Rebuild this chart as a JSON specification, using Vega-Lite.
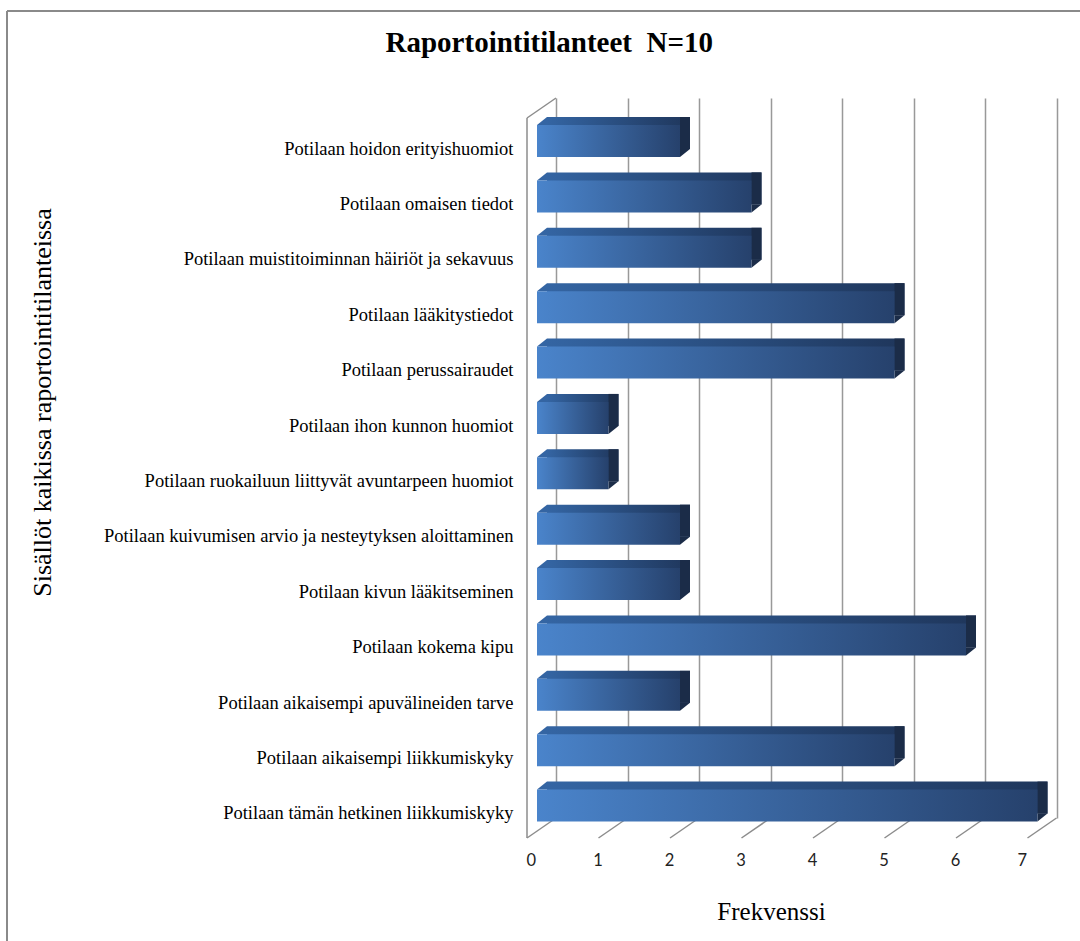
{
  "$schema": "https://vega.github.io/schema/vega-lite/v6.json",
  "width": 500.5,
  "height": 720,
  "autosize": "none",
  "padding": {"left": 556, "top": 98, "right": 23.5, "bottom": 123},
  "background": "white",
  "title": {
    "text": "Raportointitilanteet\u00a0 N=10",
    "font": "Liberation Serif",
    "fontSize": 29,
    "fontWeight": "bold",
    "color": "black",
    "anchor": "middle",
    "frame": "group",
    "dx": -257,
    "offset": -48
  },
  "config": {
    "view": {"stroke": null},
    "axisX": {
      "grid": true,
      "gridColor": "#999999",
      "gridWidth": 1.5,
      "ticks": false,
      "domain": false,
      "tickCount": 7,
      "labelFont": "Lato",
      "labelFontSize": 16.5,
      "labelColor": "#222222",
      "labelOffset": -30,
      "labelPadding": 34,
      "titleFont": "Liberation Serif",
      "titleFontSize": 25,
      "titleFontWeight": "normal",
      "titleColor": "black",
      "titleX": 215,
      "titleY": 93,
      "titleBaseline": "middle"
    },
    "axisY": {
      "grid": false,
      "ticks": false,
      "domain": false,
      "labelFont": "Liberation Serif",
      "labelFontSize": 18.5,
      "labelColor": "black",
      "labelPadding": 43,
      "labelOffset": 23,
      "labelLimit": 600,
      "titleFont": "Liberation Serif",
      "titleFontSize": 26,
      "titleFontWeight": "normal",
      "titleColor": "black",
      "titleX": -514,
      "titleY": 304,
      "titleBaseline": "middle"
    }
  },
  "datasets": {
    "bars": [
      {"cat": "Potilaan hoidon erityishuomiot", "value": 2},
      {"cat": "Potilaan omaisen tiedot", "value": 3},
      {"cat": "Potilaan muistitoiminnan häiriöt ja sekavuus", "value": 3},
      {"cat": "Potilaan lääkitystiedot", "value": 5},
      {"cat": "Potilaan perussairaudet", "value": 5},
      {"cat": "Potilaan ihon kunnon huomiot", "value": 1},
      {"cat": "Potilaan ruokailuun liittyvät avuntarpeen huomiot", "value": 1},
      {"cat": "Potilaan kuivumisen arvio ja nesteytyksen aloittaminen", "value": 2},
      {"cat": "Potilaan kivun lääkitseminen", "value": 2},
      {"cat": "Potilaan kokema kipu", "value": 6},
      {"cat": "Potilaan aikaisempi apuvälineiden tarve", "value": 2},
      {"cat": "Potilaan aikaisempi liikkumiskyky", "value": 5},
      {"cat": "Potilaan tämän hetkinen liikkumiskyky", "value": 7}
    ],
    "ticks": [{"k": 0}, {"k": 1}, {"k": 2}, {"k": 3}, {"k": 4}, {"k": 5}, {"k": 6}, {"k": 7}]
  },
  "layer": [
    {
      "layer": [
        {
          "data": {"name": "ticks"},
          "mark": {"type": "rule", "color": "#8c8c8c", "strokeWidth": 1.5, "xOffset": -29, "yOffset": 20},
          "encoding": {
            "x": {"field": "k", "type": "quantitative", "title": "Frekvenssi", "scale": {"domain": [0, 7], "nice": false}},
            "x2": {"field": "k"},
            "y": {"datum": 0, "type": "quantitative", "scale": {"domain": [0, 1]}, "axis": null},
            "y2": {"datum": 0}
          }
        },
        {
          "data": {"values": [{}]},
          "mark": {"type": "rule", "color": "#8c8c8c", "strokeWidth": 1.5, "xOffset": -29, "yOffset": 20, "y2Offset": 20},
          "encoding": {
            "x": {"datum": 0, "type": "quantitative", "title": "Frekvenssi"},
            "y": {"datum": 0, "type": "quantitative", "axis": null},
            "y2": {"datum": 1}
          }
        },
        {
          "data": {"values": [{}]},
          "mark": {"type": "rule", "color": "#8c8c8c", "strokeWidth": 1.5, "xOffset": -29, "yOffset": 20},
          "encoding": {
            "x": {"datum": 0, "type": "quantitative", "title": "Frekvenssi"},
            "x2": {"datum": 0},
            "y": {"datum": 1, "type": "quantitative", "axis": null},
            "y2": {"datum": 1}
          }
        },
        {
          "data": {"values": [{}]},
          "mark": {"type": "rule", "color": "#8a8a8a", "strokeWidth": 2, "xOffset": -549, "yOffset": -87, "y2Offset": 130},
          "encoding": {
            "x": {"datum": 0, "type": "quantitative", "title": "Frekvenssi"},
            "y": {"datum": 1, "type": "quantitative", "axis": null},
            "y2": {"datum": 0}
          }
        },
        {
          "data": {"values": [{}]},
          "mark": {"type": "rule", "color": "#8a8a8a", "strokeWidth": 2, "xOffset": -549, "x2Offset": 30, "yOffset": -87, "y2Offset": -87},
          "encoding": {
            "x": {"datum": 0, "type": "quantitative", "title": "Frekvenssi"},
            "x2": {"datum": 7},
            "y": {"datum": 1, "type": "quantitative", "axis": null},
            "y2": {"datum": 1}
          }
        }
      ]
    },
    {
      "data": {"name": "bars"},
      "encoding": {
        "y": {
          "field": "cat",
          "type": "nominal",
          "sort": null,
          "title": "Sisällöt kaikissa raportointitilanteissa",
          "scale": {"paddingInner": 0, "paddingOuter": 0}
        }
      },
      "layer": [
        {
          "mark": {
            "type": "bar",
            "height": 32,
            "xOffset": -9,
            "x2Offset": -9,
            "yOffset": 7.3,
            "fill": {
              "gradient": "linear", "x1": 0, "x2": 1, "y1": 0, "y2": 0,
              "stops": [{"offset": 0, "color": "#3465a3"}, {"offset": 1, "color": "#1f365b"}]
            }
          },
          "encoding": {
            "x": {"field": "value", "type": "quantitative", "title": "Frekvenssi"},
            "x2": {"datum": 0}
          }
        },
        {
          "mark": {"type": "bar", "height": 32, "xOffset": -19, "x2Offset": -9, "yOffset": 7.3, "fill": "#1b2c48"},
          "encoding": {
            "x": {"field": "value", "type": "quantitative", "title": "Frekvenssi"},
            "x2": {"field": "value"}
          }
        },
        {
          "mark": {"type": "point", "shape": "M -1 0.8 L 1 -0.8 L 1 0.8 Z", "size": 100, "filled": true, "opacity": 1, "strokeWidth": 0, "fill": "#3465a3", "xOffset": -14, "yOffset": -4.7},
          "encoding": {
            "x": {"datum": 0, "type": "quantitative", "title": "Frekvenssi"}
          }
        },
        {
          "mark": {"type": "point", "shape": "M -1 0.8 L 1 -0.8 L -1 -0.8 Z", "size": 100, "filled": true, "opacity": 1, "strokeWidth": 0, "fill": "#1b2c48", "xOffset": -14, "yOffset": 27.3},
          "encoding": {
            "x": {"field": "value", "type": "quantitative", "title": "Frekvenssi"}
          }
        },
        {
          "mark": {
            "type": "bar",
            "height": 32,
            "xOffset": -19,
            "x2Offset": -19,
            "yOffset": 15.3,
            "fill": {
              "gradient": "linear", "x1": 0, "x2": 1, "y1": 0, "y2": 0,
              "stops": [{"offset": 0, "color": "#4a84cb"}, {"offset": 1, "color": "#26416c"}]
            }
          },
          "encoding": {
            "x": {"field": "value", "type": "quantitative", "title": "Frekvenssi"},
            "x2": {"datum": 0}
          }
        }
      ]
    }
  ],
  "resolve": {"scale": {"y": "independent"}}
}
